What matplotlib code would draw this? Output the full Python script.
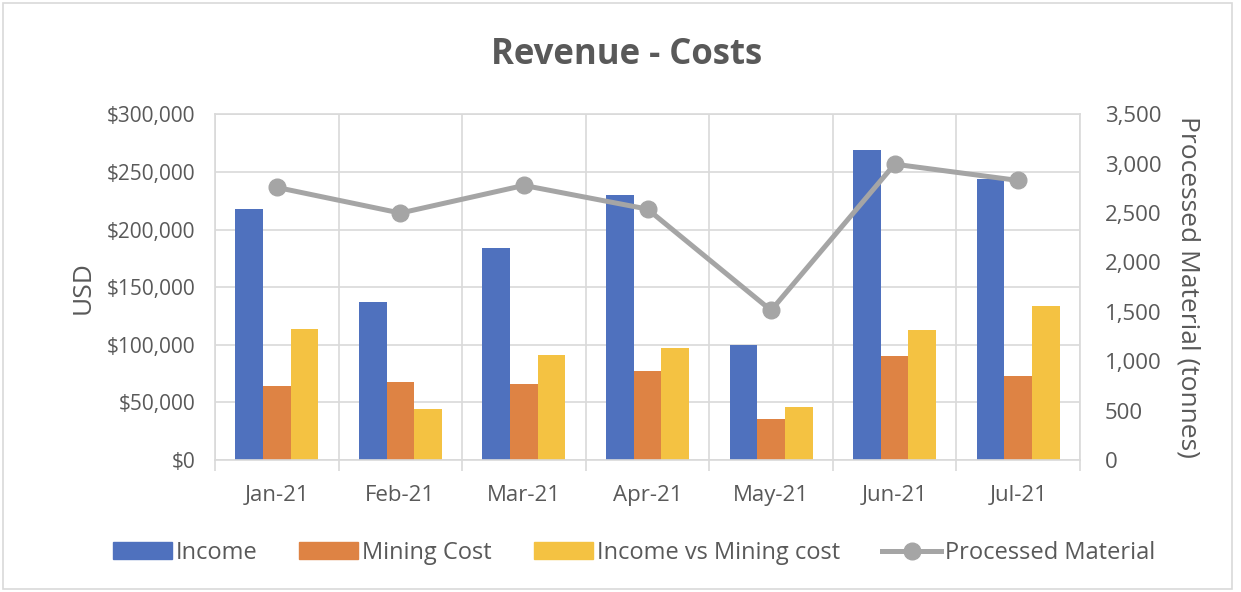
import matplotlib
matplotlib.use("Agg")
import matplotlib.pyplot as plt
import numpy as np
from matplotlib.patches import Rectangle
from matplotlib.lines import Line2D
from matplotlib.ticker import FuncFormatter, MultipleLocator

months = ["Jan-21", "Feb-21", "Mar-21", "Apr-21", "May-21", "Jun-21", "Jul-21"]
income = [218000, 137500, 184000, 230000, 99500, 269000, 243500]
mining_cost = [64000, 67500, 66000, 77500, 36000, 90500, 72500]
income_vs_mining = [114000, 44500, 91000, 97000, 46000, 112500, 134000]
processed = [2760, 2500, 2780, 2540, 1515, 2995, 2830]

C_BLUE = "#4F71BE"
C_ORANGE = "#DE8344"
C_YELLOW = "#F4C242"
C_GRAY = "#A5A5A5"
C_TEXT = "#595959"
C_GRID = "#D9D9D9"

plt.rcParams["font.family"] = ["Open Sans", "DejaVu Sans"]

W, H = 1241, 592
fig = plt.figure(figsize=(W / 100, H / 100), dpi=100)
ax = fig.add_axes([215 / W, 1 - 460 / H, (1080 - 215) / W, (460 - 114.3) / H])

x = np.arange(len(months))
bw = 0.224
ax.bar(x - bw, income, bw, color=C_BLUE, label="Income", zorder=2)
ax.bar(x, mining_cost, bw, color=C_ORANGE, label="Mining Cost", zorder=2)
ax.bar(x + bw, income_vs_mining, bw, color=C_YELLOW, label="Income vs Mining cost", zorder=2)

ax.set_xlim(-0.5, len(months) - 0.5)
ax.set_ylim(0, 300000)
ax.yaxis.set_major_locator(MultipleLocator(50000))
ax.yaxis.set_major_formatter(FuncFormatter(lambda v, p: f"${v:,.0f}"))
ax.set_xticks(x)
ax.set_xticklabels(months)
ax.set_xticks(np.arange(-0.5, len(months)), minor=True)
ax.tick_params(axis="x", which="major", length=0, pad=18, labelsize=16, labelcolor=C_TEXT)
ax.tick_params(axis="x", which="minor", length=8, color=C_GRID, width=1.2)
ax.tick_params(axis="y", length=0, pad=14, labelsize=15, labelcolor=C_TEXT)
ax.grid(axis="y", color=C_GRID, linewidth=1.2, zorder=0)
ax.grid(axis="x", which="minor", color=C_GRID, linewidth=1.2, zorder=0)
ax.set_axisbelow(True)
for s in ax.spines.values():
    s.set_color(C_GRID)
    s.set_linewidth(1.2)
ax.set_ylabel("USD", fontsize=19, color=C_TEXT, labelpad=8)

ax2 = ax.twinx()
ax2.plot(x, processed, color=C_GRAY, linewidth=3.6, marker="o", markersize=12,
         label="Processed Material", zorder=3)
ax2.set_ylim(0, 3500)
ax2.yaxis.set_major_locator(MultipleLocator(500))
ax2.yaxis.set_major_formatter(FuncFormatter(lambda v, p: f"{v:,.0f}"))
ax2.tick_params(axis="y", length=0, pad=18, labelsize=16, labelcolor=C_TEXT)
for s in ax2.spines.values():
    s.set_visible(False)
ax2.set_ylabel("Processed Material (tonnes)", fontsize=19, color=C_TEXT,
               rotation=270, labelpad=28)

fig.text(627 / W, 1 - 55 / H, "Revenue - Costs", ha="center", va="center",
         fontsize=25, fontweight="bold", color=C_TEXT)

handles = [
    Rectangle((0, 0), 1, 1, color=C_BLUE),
    Rectangle((0, 0), 1, 1, color=C_ORANGE),
    Rectangle((0, 0), 1, 1, color=C_YELLOW),
    Line2D([0], [0], color=C_GRAY, linewidth=3.6, marker="o", markersize=12),
]
labels = ["Income", "Mining Cost", "Income vs Mining cost", "Processed Material"]
fig.legend(handles, labels, loc="center", bbox_to_anchor=(634 / W, 1 - 553 / H), ncol=4,
           frameon=False, fontsize=17, labelcolor=C_TEXT, handlelength=2.5,
           handleheight=0.7, handletextpad=0.17, columnspacing=1.78)

fig.patches.append(Rectangle((3 / W, 3 / H), (1232 - 3) / W, (589 - 3) / H,
                             transform=fig.transFigure, fill=False,
                             edgecolor=C_GRID, linewidth=1.2))

fig.savefig("out.png", dpi=100)
